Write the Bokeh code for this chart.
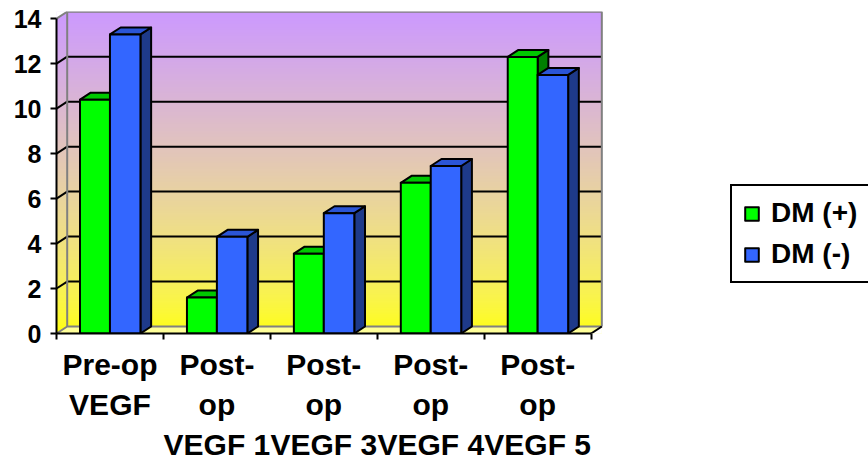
import numpy as np
from bokeh.plotting import figure
from bokeh.models import FixedTicker, Legend, LegendItem, Range1d
from bokeh.embed import file_html
from bokeh.resources import INLINE

# ---- data -------------------------------------------------------------
categories = ["Pre-op VEGF", "Post-op VEGF 1", "Post-op VEGF 3",
              "Post-op VEGF 4", "Post-op VEGF 5"]
category_labels = ["Pre-op\nVEGF", "Post-\nop\nVEGF 1", "Post-\nop\nVEGF 3",
                   "Post-\nop\nVEGF 4", "Post-\nop\nVEGF 5"]
series_names = ["DM (+)", "DM (-)"]
dm_pos = [10.4, 1.6, 3.55, 6.7, 12.3]
dm_neg = [13.3, 4.3, 5.35, 7.45, 11.5]
y_ticks = [0, 2, 4, 6, 8, 10, 12, 14]

# ---- styling / 3-D geometry ------------------------------------------
FONT = "Liberation Sans"
DX, DY = 0.10, 0.31           # depth offset of the back plane (data units)
Y_MAX = y_ticks[-1]
N_CAT = len(categories)
BAR_START = [0.22, 0.50]       # left edge of each series' bar in a slot
BAR_W = [0.28, 0.285]
FRONT = ["#00FF00", "#3366FF"]
TOP = ["#00C800", "#2B55D6"]
SIDE = ["#008000", "#1E3A8A"]
GREY = "#808080"

p = figure(width=868, height=465, output_backend="svg", toolbar_location=None,
           x_range=Range1d(0, 7.594), y_range=Range1d(0, 14.32),
           min_border_left=56, min_border_right=0, min_border_top=11,
           min_border_bottom=132)
p.outline_line_color = None
p.xgrid.visible = False
p.ygrid.visible = False

# ---- walls: vertical gradient lavender (top) -> yellow (bottom) -------
M = 256
t = np.linspace(0.0, 1.0, M)
r_ch = 255 - 51 * t
g_ch = 255 - 102 * t
b_ch = 255 * t ** 0.55
img = np.empty((M, 1), dtype=np.uint32)
view = img.view(dtype=np.uint8).reshape((M, 1, 4))
view[:, 0, 0] = r_ch.astype(np.uint8)
view[:, 0, 1] = g_ch.astype(np.uint8)
view[:, 0, 2] = b_ch.astype(np.uint8)
view[:, 0, 3] = 255
p.image_rgba(image=[img], x=0, y=0, dw=N_CAT + DX, dh=Y_MAX + DY)

# trim the corners that lie outside the side wall / floor
p.patches(xs=[[0, 0, DX], [N_CAT, N_CAT + DX, N_CAT + DX]],
          ys=[[Y_MAX, Y_MAX + DY, Y_MAX + DY], [0, 0, DY]],
          fill_color="white", line_color="white", line_width=1)

# floor
p.patch(x=[0, N_CAT, N_CAT + DX, DX], y=[0, 0, DY, DY],
        fill_color="#FFFF99", line_color=None)

# grid lines on back wall and side wall
inner = [v for v in y_ticks if 0 < v < Y_MAX]
p.segment(x0=[DX] * len(inner), y0=[v + DY for v in inner],
          x1=[N_CAT + DX] * len(inner), y1=[v + DY for v in inner],
          line_color="black", line_width=2)
p.segment(x0=[0] * len(inner), y0=inner, x1=[DX] * len(inner),
          y1=[v + DY for v in inner], line_color="black", line_width=2)

# wall edges
p.multi_line(xs=[[DX, DX, N_CAT + DX, N_CAT + DX],
                 [0, DX],
                 [0, DX, N_CAT + DX]],
             ys=[[DY, Y_MAX + DY, Y_MAX + DY, DY],
                 [Y_MAX, Y_MAX + DY],
                 [0, DY, DY]],
             line_color=GREY, line_width=2)
p.segment(x0=[N_CAT], y0=[0], x1=[N_CAT + DX], y1=[DY],
          line_color="black", line_width=2)

# ---- 3-D bars ---------------------------------------------------------
front_renderers = []
for s, vals in enumerate([dm_pos, dm_neg]):
    x0 = [i + BAR_START[s] for i in range(N_CAT)]
    x1 = [x + BAR_W[s] for x in x0]
    side_xs = [[b, b + DX, b + DX, b] for b in x1]
    side_ys = [[0, DY, v + DY, v] for v in vals]
    top_xs = [[a, b, b + DX, a + DX] for a, b in zip(x0, x1)]
    top_ys = [[v, v, v + DY, v + DY] for v in vals]
    p.patches(xs=side_xs, ys=side_ys, fill_color=SIDE[s], line_color="black",
              line_width=2, line_join="round")
    p.patches(xs=top_xs, ys=top_ys, fill_color=TOP[s], line_color="black",
              line_width=2, line_join="round")
    r = p.quad(left=x0, right=x1, bottom=0, top=vals, fill_color=FRONT[s],
               line_color="black", line_width=2, line_join="round")
    front_renderers.append(r)

# ---- axes -------------------------------------------------------------
ya = p.yaxis[0]
ya.ticker = FixedTicker(ticks=y_ticks)
ya.bounds = (0, Y_MAX)
ya.axis_line_width = 2
ya.major_tick_line_width = 2
ya.major_tick_out = 6
ya.major_tick_in = 0
ya.minor_tick_line_color = None
ya.major_label_standoff = 9
ya.major_label_text_font = FONT
ya.major_label_text_font_style = "bold"
ya.major_label_text_font_size = "25px"
ya.major_label_text_color = "black"

xa = p.xaxis[0]
centers = [i + 0.5 for i in range(N_CAT)]
xa.ticker = FixedTicker(ticks=centers, minor_ticks=list(range(N_CAT + 1)))
xa.major_label_overrides = {c: lab for c, lab in zip(centers, category_labels)}
xa.bounds = (0, N_CAT)
xa.axis_line_width = 2
xa.major_tick_line_color = None
xa.minor_tick_line_width = 2
xa.minor_tick_out = 6
xa.minor_tick_in = 0
xa.major_label_standoff = 8
xa.major_label_text_font = FONT
xa.major_label_text_font_style = "bold"
xa.major_label_text_font_size = "30px"
xa.major_label_text_line_height = 1.22
xa.major_label_text_color = "black"

# ---- legend -----------------------------------------------------------
legend = Legend(items=[LegendItem(label=n, renderers=[r])
                       for n, r in zip(series_names, front_renderers)],
                location=(674, 50), orientation="vertical",
                label_text_font=FONT, label_text_font_style="bold",
                label_text_font_size="28px", label_text_color="black",
                glyph_width=17, glyph_height=17,
                label_standoff=11, padding=11, spacing=9,
                border_line_color="black", border_line_width=2,
                border_line_alpha=1.0,
                background_fill_color="white", background_fill_alpha=1.0)
p.add_layout(legend)

open("out.html", "w").write(file_html(p, INLINE))
